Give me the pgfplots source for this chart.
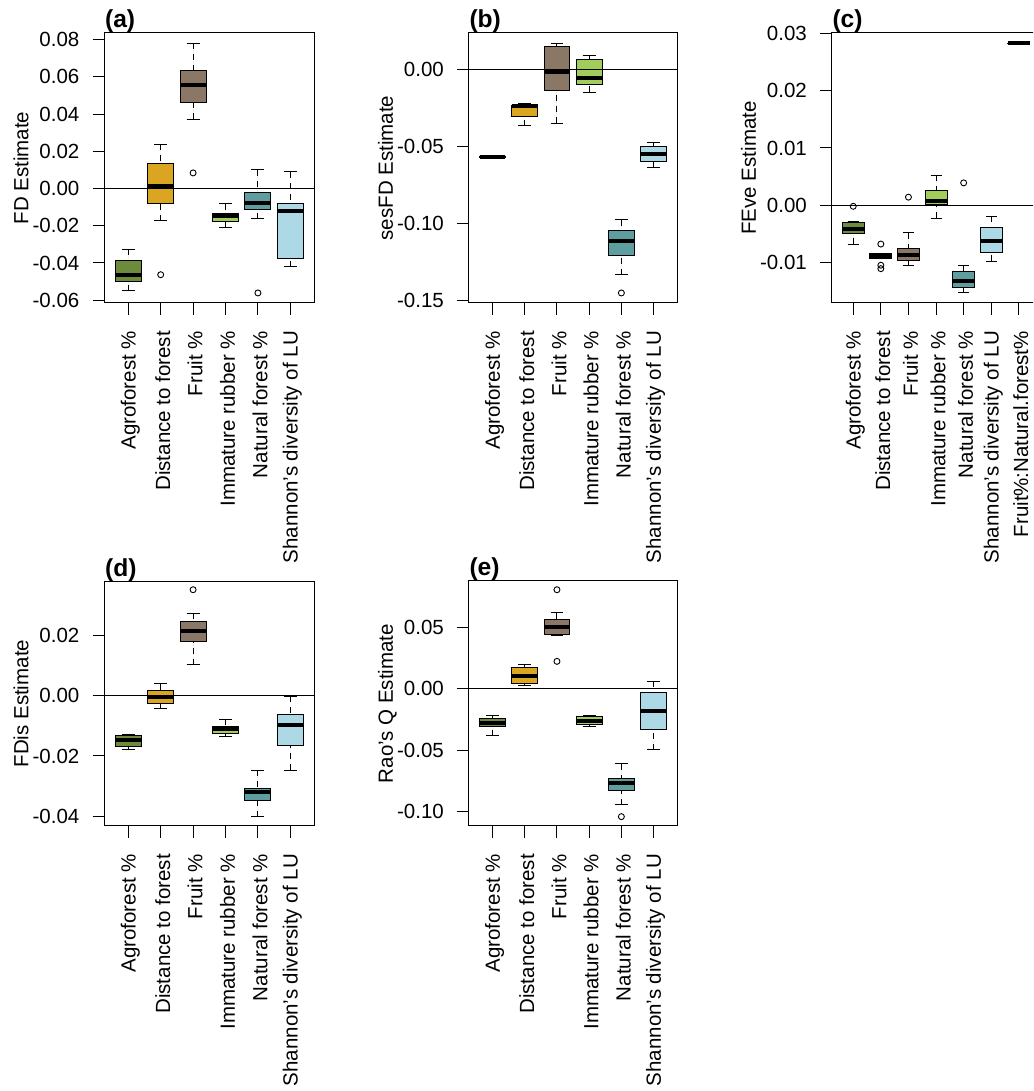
\documentclass[border=0pt]{standalone}
\usepackage{fontspec}
\setmainfont{Liberation Sans}
\usepackage{pgfplots}
\pgfplotsset{compat=1.18}
\usepgfplotslibrary{statistics}
\definecolor{cAgro}{HTML}{6E8B3D}
\definecolor{cDist}{HTML}{DAA520}
\definecolor{cFruit}{HTML}{8B7765}
\definecolor{cImm}{HTML}{A2CD5A}
\definecolor{cNat}{HTML}{5F9EA0}
\definecolor{cShan}{HTML}{ADD8E6}
\definecolor{cInt}{HTML}{D3D3D3}
\newcommand{\fs}{\fontsize{5.125}{6}\selectfont}
\newcommand{\ft}{\bfseries\fontsize{6.15}{7}\selectfont}
% position, colour, lower whisker, lower quartile, median, upper quartile, upper whisker
\newcommand{\bx}[7]{\addplot[fill=#2, draw=black, line width=0.25pt, mark=none,
  boxplot prepared={draw position=#1, lower whisker=#3, lower quartile=#4,
  median=#5, upper quartile=#6, upper whisker=#7}] coordinates {};}
\pgfplotsset{
  rbox/.style={
    scale only axis,
    anchor=south west,
    axis line style={line width=0.25pt},
    every tick/.style={black, line width=0.25pt},
    major tick length=2.925pt,
    tick align=outside,
    xtick pos=bottom, ytick pos=left,
    scaled y ticks=false,
    xtick={1,...,6},
    xticklabels={Agroforest \%, Distance to forest, Fruit \%, Immature rubber \%, Natural forest \%, Shannon's diversity of LU},
    xticklabel style={yshift=-3.9pt, xshift=0.5pt, rotate=90, anchor=east, inner sep=0pt, font=\fs},
    yticklabel style={anchor=east, inner sep=0pt, font=\fs},
    yticklabel shift=3.1pt,
    xmin=0.26, xmax=6.74,
    every axis y label/.style={at={(rel axis cs:0,0.5)}, xshift=-18.95pt, rotate=90, anchor=base, font=\fs},
    every axis title/.style={at={(rel axis cs:0,1)}, anchor=base west, yshift=1.25pt, inner sep=0pt, font=\ft},
    boxplot/draw direction=y,
    boxplot/box extend=0.8,
    boxplot/whisker extend=0.4,
    boxplot/every median/.style={line width=1pt, black},
    boxplot/draw/lower whisker/.code={%
      \draw[dash pattern=on 1.5pt off 1.25pt, line width=0.25pt]
        (boxplot box cs:\pgfplotsboxplotvalue{lower whisker},0.5) --
        (boxplot box cs:\pgfplotsboxplotvalue{lower quartile},0.5);
      \draw[line width=0.25pt]
        (boxplot whisker cs:\pgfplotsboxplotvalue{lower whisker},0) --
        (boxplot whisker cs:\pgfplotsboxplotvalue{lower whisker},1);
    },
    boxplot/draw/upper whisker/.code={%
      \draw[dash pattern=on 1.5pt off 1.25pt, line width=0.25pt]
        (boxplot box cs:\pgfplotsboxplotvalue{upper whisker},0.5) --
        (boxplot box cs:\pgfplotsboxplotvalue{upper quartile},0.5);
      \draw[line width=0.25pt]
        (boxplot whisker cs:\pgfplotsboxplotvalue{upper whisker},0) --
        (boxplot whisker cs:\pgfplotsboxplotvalue{upper whisker},1);
    },
  },
  outl/.style={only marks, mark=o, mark size=0.75pt, black, mark options={line width=0.225pt}},
  zline/.style={black, line width=0.25pt, mark=none},
}
\begin{document}
\begin{tikzpicture}
\path[use as bounding box, clip] (0pt,0pt) rectangle (258.25pt,272.75pt);
% ---------------- (a)
\begin{axis}[rbox, at={(26.075pt,197pt)}, width=52.5pt, height=67.5pt,
  title={(a)}, ylabel={FD Estimate},
  ymin=-0.0615, ymax=0.0836,
  ytick={-0.06,-0.04,-0.02,0,0.02,0.04,0.06,0.08},
  yticklabels={-0.06,-0.04,-0.02,0.00,0.02,0.04,0.06,0.08}]
\bx{1}{cAgro}{-0.0549}{-0.0500}{-0.0465}{-0.0386}{-0.0326}
\bx{2}{cDist}{-0.0174}{-0.0083}{0.0016}{0.0133}{0.0239}
\bx{3}{cFruit}{0.0373}{0.0461}{0.0558}{0.0633}{0.0780}
\bx{4}{cImm}{-0.0212}{-0.0176}{-0.0145}{-0.0133}{-0.0083}
\bx{5}{cNat}{-0.0161}{-0.0111}{-0.0075}{-0.0022}{0.0100}
\bx{6}{cShan}{-0.0420}{-0.0378}{-0.0122}{-0.0083}{0.0090}
\addplot[outl] coordinates {(2,-0.0463) (3,0.0084) (5,-0.0561)};
\addplot[zline] coordinates {(0.26,0) (6.74,0)};
\end{axis}
% ---------------- (b)
\begin{axis}[rbox, at={(117.175pt,197pt)}, width=52.175pt, height=67.5pt,
  title={(b)}, ylabel={sesFD Estimate},
  ymin=-0.1515, ymax=0.0236,
  ytick={-0.15,-0.10,-0.05,0},
  yticklabels={-0.15,-0.10,-0.05,0.00}]
\bx{1}{cAgro}{-0.0575}{-0.0572}{-0.0568}{-0.0565}{-0.0562}
\bx{2}{cDist}{-0.0365}{-0.0307}{-0.0238}{-0.0233}{-0.0220}
\bx{3}{cFruit}{-0.0348}{-0.0136}{-0.0015}{0.0149}{0.0169}
\bx{4}{cImm}{-0.0147}{-0.0097}{-0.0054}{0.0065}{0.0091}
\bx{5}{cNat}{-0.1331}{-0.1206}{-0.1110}{-0.1048}{-0.0975}
\bx{6}{cShan}{-0.0635}{-0.0597}{-0.0547}{-0.0499}{-0.0473}
\addplot[outl] coordinates {(5,-0.145)};
\addplot[zline] coordinates {(0.26,0) (6.74,0)};
\end{axis}
% ---------------- (c)
\begin{axis}[rbox, at={(207.925pt,197pt)}, width=52.175pt, height=67.5pt,
  title={(c)}, ylabel={FEve Estimate},
  xmin=0.22, xmax=7.78, xtick={1,2,3,4,5,6,7},
  xticklabels={Agroforest \%, Distance to forest, Fruit \%, Immature rubber \%, Natural forest \%, Shannon's diversity of LU, Fruit\%:Natural.forest\%},
  ymin=-0.0171, ymax=0.0301,
  ytick={-0.01,0,0.01,0.02,0.03},
  yticklabels={-0.01,0.00,0.01,0.02,0.03}]
\bx{1}{cAgro}{-0.0068}{-0.0050}{-0.0041}{-0.0031}{-0.0029}
\bx{2}{cDist}{-0.0094}{-0.0093}{-0.0089}{-0.0085}{-0.0084}
\bx{3}{cFruit}{-0.0105}{-0.0096}{-0.0087}{-0.0075}{-0.0048}
\bx{4}{cImm}{-0.0023}{0.0001}{0.0008}{0.0025}{0.0052}
\bx{5}{cNat}{-0.0153}{-0.0144}{-0.0133}{-0.0116}{-0.0105}
\bx{6}{cShan}{-0.0098}{-0.0083}{-0.0062}{-0.0039}{-0.0019}
\bx{7}{cInt}{0.0282}{0.02825}{0.0283}{0.02835}{0.0284}
\addplot[outl] coordinates {(1,-0.0002) (2,-0.0068) (2,-0.0105) (2,-0.0111) (3,0.0014) (5,0.0039)};
\addplot[zline] coordinates {(0.22,0) (7.78,0)};
\end{axis}
% ---------------- (d)
\begin{axis}[rbox, at={(26.075pt,66.25pt)}, width=52.5pt, height=61.175pt,
  title={(d)}, ylabel={FDis Estimate},
  ymin=-0.0433, ymax=0.0381,
  ytick={-0.04,-0.02,0,0.02},
  yticklabels={-0.04,-0.02,0.00,0.02}]
\bx{1}{cAgro}{-0.0180}{-0.0169}{-0.0147}{-0.0133}{-0.0127}
\bx{2}{cDist}{-0.0042}{-0.0024}{-0.0004}{0.0018}{0.0040}
\bx{3}{cFruit}{0.0104}{0.0182}{0.0217}{0.0248}{0.0274}
\bx{4}{cImm}{-0.0134}{-0.0124}{-0.0110}{-0.0102}{-0.0078}
\bx{5}{cNat}{-0.0403}{-0.0349}{-0.0321}{-0.0308}{-0.0248}
\bx{6}{cShan}{-0.0248}{-0.0164}{-0.0098}{-0.0061}{-0.0002}
\addplot[outl] coordinates {(3,0.0353)};
\addplot[zline] coordinates {(0.26,0) (6.74,0)};
\end{axis}
% ---------------- (e)
\begin{axis}[rbox, at={(117.175pt,66.25pt)}, width=52.175pt, height=61.25pt,
  title={(e)}, ylabel={Rao's Q Estimate},
  ymin=-0.1116, ymax=0.0875,
  ytick={-0.10,-0.05,0,0.05},
  yticklabels={-0.10,-0.05,0.00,0.05}]
\bx{1}{cAgro}{-0.0382}{-0.0309}{-0.0276}{-0.0244}{-0.0214}
\bx{2}{cDist}{0.0022}{0.0043}{0.0106}{0.0168}{0.0200}
\bx{3}{cFruit}{0.0436}{0.0441}{0.0498}{0.0561}{0.0615}
\bx{4}{cImm}{-0.0309}{-0.0290}{-0.0263}{-0.0230}{-0.0214}
\bx{5}{cNat}{-0.0945}{-0.0829}{-0.0764}{-0.0726}{-0.0612}
\bx{6}{cShan}{-0.0498}{-0.0330}{-0.0184}{-0.0035}{0.0062}
\addplot[outl] coordinates {(3,0.0804) (3,0.0222) (5,-0.104)};
\addplot[zline] coordinates {(0.26,0) (6.74,0)};
\end{axis}
\end{tikzpicture}
\end{document}
